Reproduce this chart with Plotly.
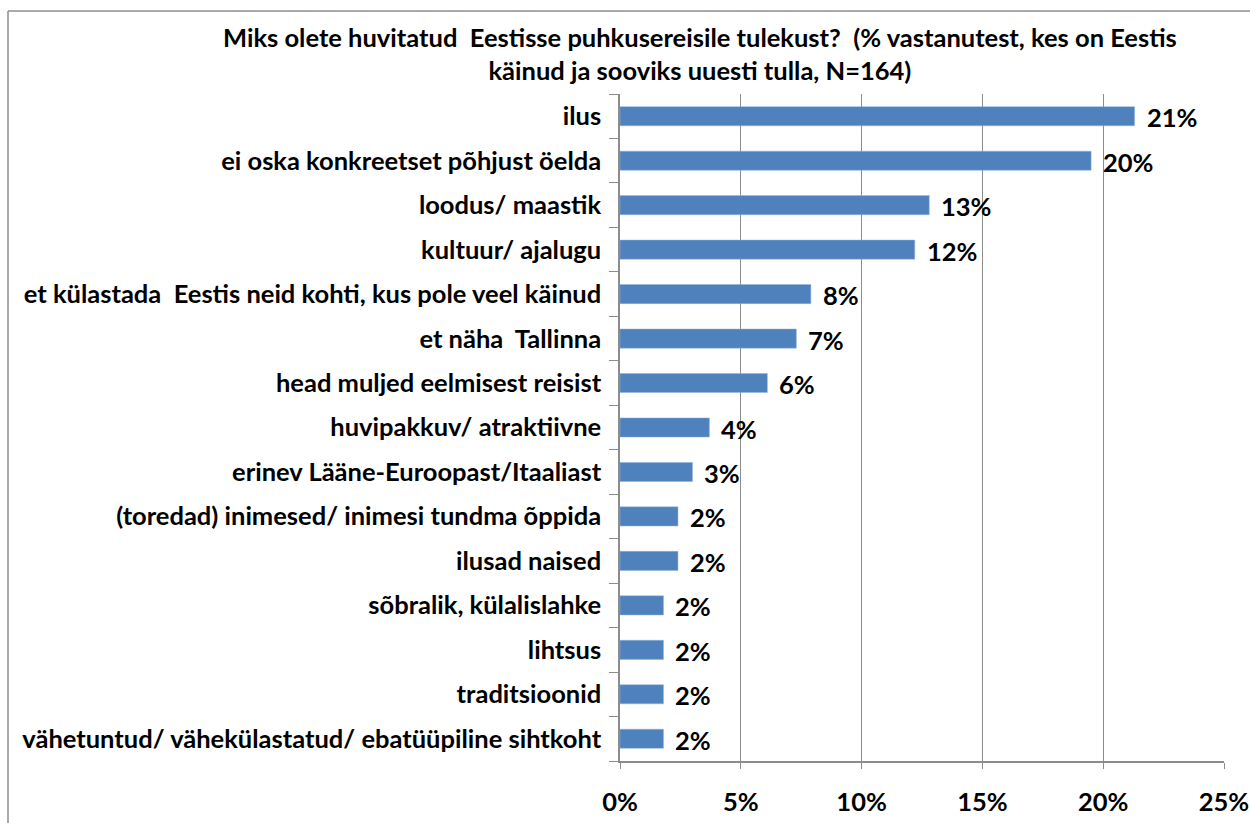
import plotly.graph_objects as go

categories = [
    "ilus",
    "ei oska konkreetset põhjust öelda",
    "loodus/ maastik",
    "kultuur/ ajalugu",
    "et külastada  Eestis neid kohti, kus pole veel käinud",
    "et näha  Tallinna",
    "head muljed eelmisest reisist",
    "huvipakkuv/ atraktiivne",
    "erinev Lääne-Euroopast/Itaaliast",
    "(toredad) inimesed/ inimesi tundma õppida",
    "ilusad naised",
    "sõbralik, külalislahke",
    "lihtsus",
    "traditsioonid",
    "vähetuntud/ vähekülastatud/ ebatüüpiline sihtkoht",
]
values = [21.3, 19.5, 12.8, 12.2, 7.9, 7.3, 6.1, 3.7, 3.0, 2.4, 2.4, 1.8, 1.8, 1.8, 1.8]
x_ticks = [0, 5, 10, 15, 20, 25]
x_tick_labels = ["0%", "5%", "10%", "15%", "20%", "25%"]
title_text = "Miks olete huvitatud  Eestisse puhkusereisile tulekust?  (% vastanutest, kes on Eestis<br>käinud ja sooviks uuesti tulla, N=164)"

FONT = "Lato, 'Open Sans', sans-serif"
W, H = 1250, 823
L, R, T, B = 620, 26, 94, 62
LBL = 25.5
PW, PH = W - L - R, H - T - B

fig = go.Figure(
    go.Bar(
        x=values,
        y=categories,
        orientation="h",
        width=0.43,
        marker=dict(color="#4F81BD", line=dict(color="#8EB4E3", width=0.5)),
        hoverinfo="skip",
    )
)

annotations = [
    dict(
        text=f"<b>{round(v)}%</b>",
        x=v,
        y=c,
        xref="x",
        yref="y",
        xanchor="left",
        yanchor="middle",
        xshift=10,
        yshift=-1,
        showarrow=False,
        font=dict(family=FONT, size=LBL, color="black"),
    )
    for v, c in zip(values, categories)
]
annotations.append(
    dict(
        text=f"<b>{title_text}</b>",
        xref="paper",
        yref="paper",
        x=(700 - L) / PW,
        y=1 + (T - 53) / PH,
        xanchor="center",
        yanchor="middle",
        showarrow=False,
        align="center",
        font=dict(family=FONT, size=25.5, color="black"),
    )
)

fig.update_layout(
    width=W,
    height=H,
    autosize=False,
    margin=dict(l=L, r=R, t=T, b=B, pad=0, autoexpand=False),
    paper_bgcolor="white",
    plot_bgcolor="white",
    showlegend=False,
    font=dict(family=FONT, color="black"),
    xaxis=dict(
        range=[0, 25],
        tickvals=x_ticks,
        ticktext=[f"<b>{t}</b>" for t in x_tick_labels],
        tickfont=dict(family=FONT, size=LBL, color="black"),
        showgrid=True,
        gridcolor="#8C8C8C",
        gridwidth=1,
        showline=True,
        linecolor="#8C8C8C",
        linewidth=1.5,
        ticks="outside",
        ticklen=6,
        tickcolor="#8C8C8C",
        ticklabelstandoff=12,
        zeroline=False,
        automargin=False,
        fixedrange=True,
    ),
    yaxis=dict(
        autorange="reversed",
        tickmode="array",
        tickvals=categories,
        ticktext=[f"<b>{c}</b>" for c in categories],
        tickfont=dict(family=FONT, size=LBL, color="black"),
        showline=True,
        linecolor="#8C8C8C",
        linewidth=1.5,
        ticks="outside",
        tickson="boundaries",
        ticklen=9,
        tickcolor="#8C8C8C",
        ticklabelstandoff=12,
        showgrid=False,
        automargin=False,
        fixedrange=True,
    ),
    annotations=annotations,
    shapes=[
        dict(type="line", xref="paper", yref="paper",
             x0=(8 - L) / PW, x1=(W + 5 - L) / PW,
             y0=1 + (T - 11) / PH, y1=1 + (T - 11) / PH,
             line=dict(color="#8C8C8C", width=1.5)),
        dict(type="line", xref="paper", yref="paper",
             x0=(8 - L) / PW, x1=(8 - L) / PW,
             y0=1 + (T - 11) / PH, y1=-(B + 5) / PH,
             line=dict(color="#8C8C8C", width=1.5)),
    ],
)

fig.write_html(
    "out.html",
    config={"displayModeBar": False, "responsive": False},
    post_script="document.body.style.margin='0';document.body.style.padding='0';",
)
